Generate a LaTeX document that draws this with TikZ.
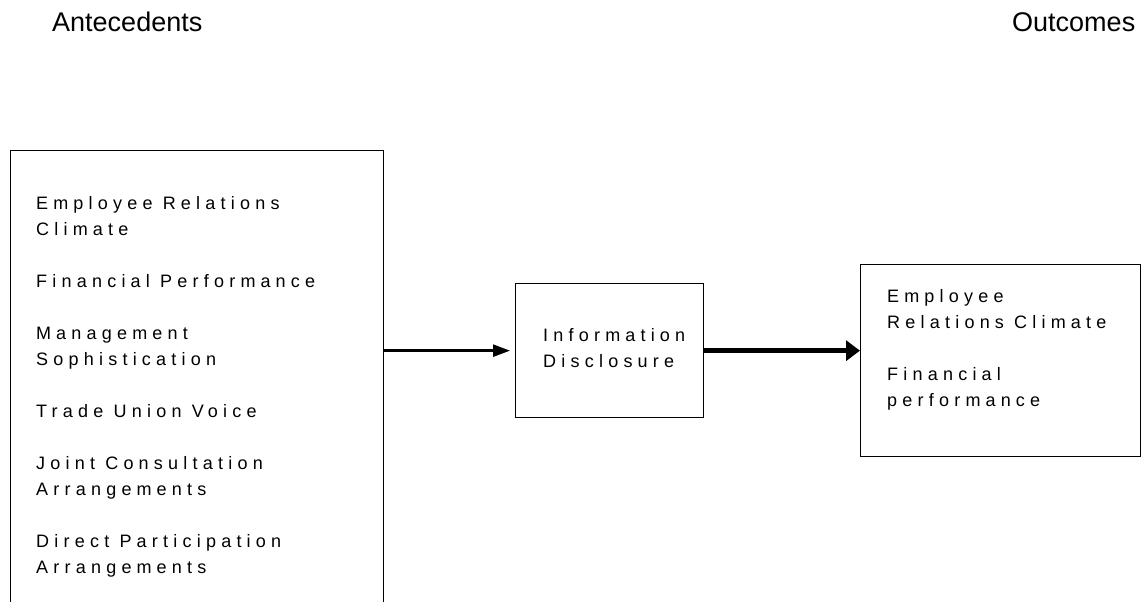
\documentclass[tikz,border=0pt]{standalone}
\usepackage{fontspec}
\setmainfont{Liberation Sans}
\newfontfamily\trackfont[LetterSpace=29]{Liberation Sans}
\usetikzlibrary{arrows.meta}
\newcommand{\gm}{m\kern5pt}
\newcommand{\gM}{M\kern5pt}
\begin{document}
\begin{tikzpicture}[x=1pt,y=-1pt,
  boxline/.style={draw, line width=1.3pt, inner sep=0pt},
  body/.style={font=\trackfont\fontsize{18}{26}\selectfont, align=left, inner sep=0pt, anchor=base west},
  title/.style={font=\fontsize{27}{30}\selectfont, inner sep=0pt, anchor=base west},
  thin/.style={line width=2.5pt, -{Triangle[length=17pt,width=12pt]}},
  thick/.style={line width=5pt, -{Triangle[length=14pt,width=20pt]}}]
\useasboundingbox (0,0) rectangle (1148,602);
\clip (0,0) rectangle (1148,602);
\node[title] (tante) at (52,32) {Antecedents};
\node[title] (tout) at (1012,32) {Outcomes};
\node[boxline, minimum width=373pt, minimum height=480pt, anchor=north west] (ante) at (10,150) {};
\node[boxline, minimum width=188pt, minimum height=134pt, anchor=north west] (mid) at (515,283) {};
\node[boxline, minimum width=280pt, minimum height=192pt, anchor=north west] (out) at (860,264) {};
\node[body] (antetext) at (36,573) {E\gm ployee Relations\\Cli\gm ate\\[26pt]Financial Perfor\gm ance\\[26pt]\gM anage\gm ent\\Sophistication\\[26pt]Trade Union Voice\\[26pt]Joint Consultation\\Arrange\gm ents\\[26pt]Direct Participation\\Arrange\gm ents};
\node[body] (midtext) at (543,367) {Infor\gm ation\\Disclosure};
\node[body] (outtext) at (887,406) {E\gm ployee\\Relations Cli\gm ate\\[26pt]Financial\\perfor\gm ance};
\draw[thin, shorten >=5pt] (ante.east |- mid.west) -- (mid.west);
\draw[thick] (mid.east) -- (out.west |- mid.east);
\end{tikzpicture}
\end{document}
